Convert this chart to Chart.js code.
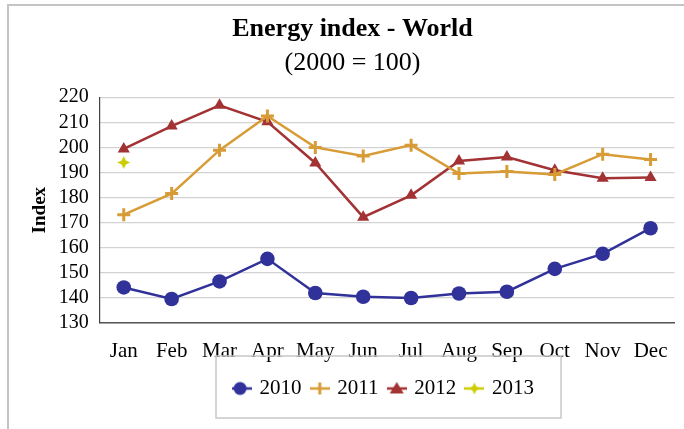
<!DOCTYPE html>
<html>
<head>
<meta charset="utf-8">
<script src="https://cdn.jsdelivr.net/npm/chart.js@4/dist/chart.umd.min.js"></script>
<style>
  body { margin: 0; background: #fff; }
  #wrap { position: relative; width: 684px; height: 429px; }
  #frame {
    position: absolute; left: 7px; top: 4px; right: 0; bottom: 0;
    border-top: 2px solid #c4c4c4; border-left: 2px solid #c4c4c4;
    pointer-events: none;
  }
</style>
</head>
<body>
<div id="wrap">
  <canvas id="energyChart" width="684" height="429"></canvas>
  <div id="frame"></div>
</div>
<script>
var months = ['Jan', 'Feb', 'Mar', 'Apr', 'May', 'Jun', 'Jul', 'Aug', 'Sep', 'Oct', 'Nov', 'Dec'];
var yearLabels = ['2010', '2011', '2012', '2013'];
var values2010 = [144.2, 139.6, 146.6, 155.6, 142.0, 140.5, 140.0, 141.8, 142.5, 151.6, 157.6, 167.8];
var values2011 = [173.2, 181.6, 198.9, 212.5, 200.0, 196.6, 200.9, 189.6, 190.4, 189.2, 197.3, 195.2];
var values2012 = [199.4, 208.5, 216.8, 210.2, 193.8, 172.2, 180.9, 194.6, 196.2, 190.9, 187.7, 188.0];
var values2013 = [194, null, null, null, null, null, null, null, null, null, null, null];
var yTicks = [130, 140, 150, 160, 170, 180, 190, 200, 210, 220];

var colors = ['#31319a', '#d89c37', '#a23233', '#cccc00'];
var serif = "'Liberation Serif', 'Times New Roman', serif";
var legendShiftX = 32, legendShiftY = -12.5;

// small four-point star used for 2013
function sparkle(size, color) {
    var c = document.createElement('canvas');
    c.width = size; c.height = size;
    var g = c.getContext('2d');
    var m = size / 2, w = size * 0.16;
    g.fillStyle = color;
    g.beginPath();
    g.moveTo(m, 0);
    g.lineTo(m + w, m - w);
    g.lineTo(size, m);
    g.lineTo(m + w, m + w);
    g.lineTo(m, size);
    g.lineTo(m - w, m + w);
    g.lineTo(0, m);
    g.lineTo(m - w, m - w);
    g.closePath();
    g.fill();
    return c;
}

// legend swatch: short line with the series marker on it
function swatch(idx) {
    var c = document.createElement('canvas');
    c.width = 20; c.height = 16;
    var g = c.getContext('2d');
    var col = colors[idx];
    g.strokeStyle = col;
    g.fillStyle = col;
    g.lineWidth = 2.5;
    g.beginPath();
    g.moveTo(0, 8); g.lineTo(20, 8);
    g.stroke();
    if (idx === 0) {
        g.beginPath(); g.arc(8, 8, 6.5, 0, Math.PI * 2); g.fill();
    } else if (idx === 1) {
        g.lineWidth = 3;
        g.beginPath();
        g.moveTo(10, 2); g.lineTo(10, 14);
        g.stroke();
    } else if (idx === 2) {
        g.beginPath();
        g.moveTo(10, 1.5); g.lineTo(17, 13); g.lineTo(3, 13);
        g.closePath(); g.fill();
    } else {
        g.drawImage(sparkle(12, col), 4, 2);
    }
    return c;
}

var starPoint = sparkle(13, colors[3]);

// nudge the legend row into place and box it in
var legendFrame = {
    id: 'legendFrame',
    afterLayout: function(chart) {
        chart.legend.left += legendShiftX;
        chart.legend.right += legendShiftX;
        chart.legend.top += legendShiftY;
        chart.legend.bottom += legendShiftY;
    },
    afterDraw: function(chart) {
        var boxes = chart.legend.legendHitBoxes;
        if (!boxes || !boxes.length) return;
        var left = 216, right = 561;
        var mid = boxes[0].top + boxes[0].height / 2;
        var ctx = chart.ctx;
        ctx.save();
        ctx.strokeStyle = '#c8c8c8';
        ctx.lineWidth = 1.5;
        ctx.strokeRect(left, mid - 32.5, right - left, 62);
        ctx.restore();
    }
};

var ctx = document.getElementById('energyChart').getContext('2d');
new Chart(ctx, {
    type: 'line',
    data: {
        labels: months,
        datasets: [{
            label: yearLabels[0],
            data: values2010,
            borderColor: colors[0],
            backgroundColor: colors[0],
            borderWidth: 2.5,
            pointStyle: 'circle',
            pointRadius: 7.3,
            pointBorderWidth: 0
        }, {
            label: yearLabels[1],
            data: values2011,
            borderColor: colors[1],
            backgroundColor: colors[1],
            borderWidth: 2.5,
            pointStyle: 'cross',
            pointRadius: 6.5,
            pointBorderWidth: 3
        }, {
            label: yearLabels[2],
            data: values2012,
            borderColor: colors[2],
            backgroundColor: colors[2],
            borderWidth: 2.5,
            pointStyle: 'triangle',
            pointRadius: 7,
            pointBorderWidth: 0
        }, {
            label: yearLabels[3],
            data: values2013,
            borderColor: colors[3],
            backgroundColor: colors[3],
            borderWidth: 2.5,
            pointStyle: starPoint,
            pointRadius: 6
        }]
    },
    options: {
        responsive: false,
        animation: false,
        layout: { padding: { left: 29, right: 8, top: 0, bottom: 7.5 } },
        scales: {
            x: {
                offset: true,
                grid: { display: false, drawTicks: false },
                border: { display: true, color: '#555', width: 1.5 },
                ticks: {
                    color: '#000',
                    padding: 15.5,
                    maxRotation: 0,
                    autoSkip: false,
                    font: { family: serif, size: 21 }
                }
            },
            y: {
                min: 130,
                max: 220,
                afterBuildTicks: function(scale) {
                    scale.ticks = yTicks.map(function(v) { return { value: v }; });
                },
                grid: { color: '#d3d3d3', lineWidth: 1.2, drawTicks: false },
                border: { display: true, color: '#444', width: 1.2 },
                ticks: {
                    color: '#000',
                    padding: 11,
                    autoSkip: false,
                    font: { family: serif, size: 20 }
                },
                title: {
                    display: true,
                    text: 'Index',
                    color: '#000',
                    padding: { top: 0, bottom: -4 },
                    font: { family: serif, size: 19, weight: 'bold' }
                }
            }
        },
        plugins: {
            title: {
                display: true,
                text: 'Energy index - World',
                color: '#000',
                padding: { top: 14, bottom: 2.8 },
                font: { family: serif, size: 26, weight: 'bold' }
            },
            subtitle: {
                display: true,
                text: '(2000 = 100)',
                color: '#000',
                padding: { top: 0, bottom: 18 },
                font: { family: serif, size: 26 }
            },
            legend: {
                position: 'bottom',
                labels: {
                    usePointStyle: true,
                    pointStyleWidth: 14,
                    padding: 11.2,
                    color: '#000',
                    font: { family: serif, size: 21 },
                    generateLabels: function(chart) {
                        var items = Chart.defaults.plugins.legend.labels.generateLabels(chart);
                        items.forEach(function(item) {
                            item.pointStyle = swatch(item.datasetIndex);
                        });
                        return items;
                    }
                }
            },
            tooltip: { enabled: false }
        }
    },
    plugins: [legendFrame]
});
</script>
</body>
</html>
